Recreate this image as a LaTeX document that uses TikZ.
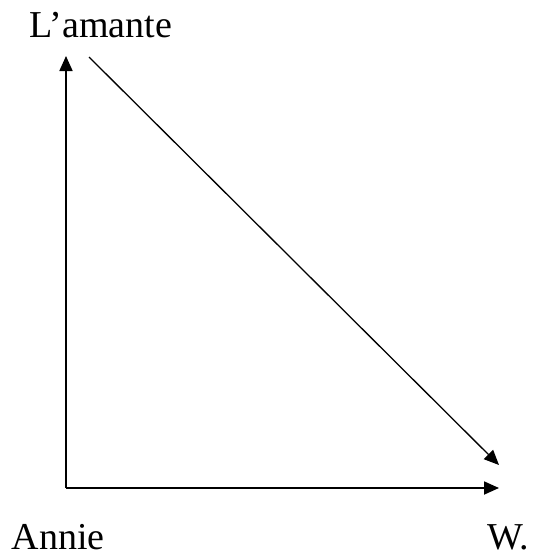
\documentclass[tikz,border=0pt]{standalone}
\usepackage{fontspec}
\setmainfont{Liberation Serif}
\usetikzlibrary{arrows.meta}

\tikzset{
    wordtext/.style={font=\fontsize{38}{42}\selectfont, inner sep=0pt, anchor=base, text depth=0pt},
    axis/.style={line width=1.8pt, -{Triangle[length=15pt,width=13pt]}}
}

\begin{document}
\begin{tikzpicture}[x=1pt,y=-1pt]
    \useasboundingbox (0,0) rectangle (537,554);

    % Labels
    \node[wordtext] (lamante) at (101,37) {L’amante};
    \node[wordtext] (annie) at (58,549) {Annie};
    \node[wordtext] (w) at (508,549) {W.};

    % Corners
    \coordinate (o) at (66,488);
    \coordinate (top) at (66,56);
    \coordinate (right) at (499,488);
    \coordinate (start) at (89,57);
    \coordinate (end) at (499,465);

    % Axes
    \draw[axis] (o) -- (top);
    \draw[axis] (o) -- (right);
    \draw[axis, line width=1.3pt] (start) -- (end);
\end{tikzpicture}
\end{document}
